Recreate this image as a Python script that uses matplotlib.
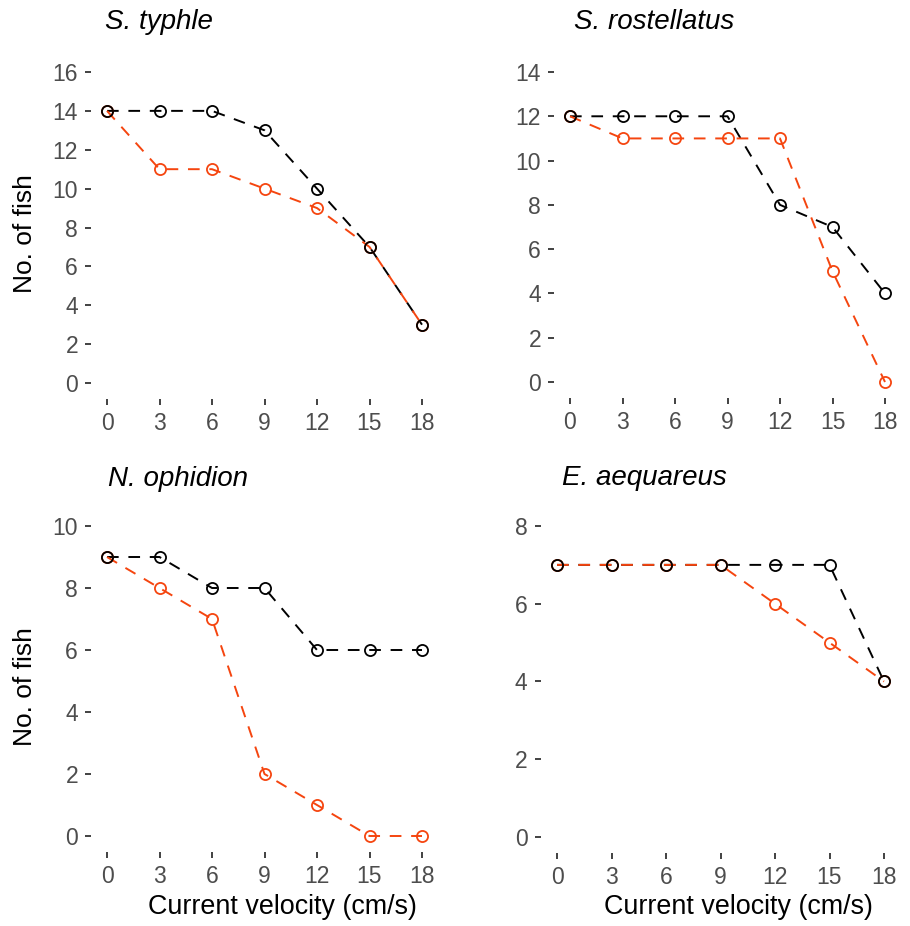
# Gráfico de cuatro paneles: número de peces frente a la velocidad de corriente
import matplotlib
matplotlib.use("Agg")
import matplotlib.pyplot as plt

plt.rcParams['font.family'] = ['Liberation Sans', 'DejaVu Sans']

# Datos
velocity = [0, 3, 6, 9, 12, 15, 18]
species = ["S. typhle", "S. rostellatus", "N. ophidion", "E. aequareus"]
black_counts = [
    [14, 14, 14, 13, 10, 7, 3],
    [12, 12, 12, 12, 8, 7, 4],
    [9, 9, 8, 8, 6, 6, 6],
    [7, 7, 7, 7, 7, 7, 4],
]
red_counts = [
    [14, 11, 11, 10, 9, 7, 3],
    [12, 11, 11, 11, 11, 5, 0],
    [9, 8, 7, 2, 1, 0, 0],
    [7, 7, 7, 7, 6, 5, 4],
]
y_max = [16, 14, 10, 8]

# Posiciones de los paneles en píxeles: (x de 0, x de 18, y del tick máximo, y de 0)
W, H = 910, 926
panel_px = [
    (107, 422, 72, 383),
    (570, 885, 72, 382),
    (107, 422, 526, 836),
    (557, 884, 526, 837),
]
title_px = [(105, 22), (574, 22), (108, 479), (562, 478)]

RED = "#F5450F"
TICK_COL = "#333333"
LAB_COL = "#4D4D4D"

fig = plt.figure(figsize=(W / 100, H / 100), dpi=100)

for i in range(4):
    x0, x18, yt, y0 = panel_px[i]
    ym = y_max[i]
    dx = (x18 - x0) / 18.0
    dy = (y0 - yt) / float(ym)
    left = x0 - 0.9 * dx
    right = x18 + 0.9 * dx
    top = yt - 0.05 * ym * dy
    bottom = y0 + 0.05 * ym * dy
    ax = fig.add_axes([left / W, 1 - bottom / H, (right - left) / W, (bottom - top) / H])
    ax.set_xlim(-0.9, 18.9)
    ax.set_ylim(-0.05 * ym, 1.05 * ym)

    ax.plot(velocity, black_counts[i], color="black", lw=1.4, ls=(0, (6, 5)), zorder=2)
    ax.plot(velocity, red_counts[i], color=RED, lw=1.4, ls=(0, (6, 5)), zorder=3)
    ax.plot(velocity, red_counts[i], ls="none", marker="o", ms=8, mfc="none",
            mec=RED, mew=1.3, zorder=4)
    ax.plot(velocity, black_counts[i], ls="none", marker="o", ms=8, mfc="none",
            mec="black", mew=1.3, zorder=5)

    ax.set_xticks(velocity)
    ax.set_yticks(range(0, ym + 1, 2))
    for s in ax.spines.values():
        s.set_visible(False)
    ax.tick_params(direction="out", length=4.5, width=1.3, color=TICK_COL,
                   labelsize=16.5, labelcolor=LAB_COL, pad=5)

    tx, ty = title_px[i]
    fig.text(tx / W, 1 - ty / H, species[i], fontsize=20, style="italic",
             ha="left", va="center")

# Etiquetas de los ejes
fig.text(25 / W, 1 - 234 / H, "No. of fish", fontsize=19, rotation=90, ha="center", va="center")
fig.text(25 / W, 1 - 687 / H, "No. of fish", fontsize=19, rotation=90, ha="center", va="center")
fig.text(282 / W, 1 - 907 / H, "Current velocity (cm/s)", fontsize=19.4, ha="center", va="center")
fig.text(738 / W, 1 - 907 / H, "Current velocity (cm/s)", fontsize=19.4, ha="center", va="center")

fig.savefig("out.png", dpi=100)
